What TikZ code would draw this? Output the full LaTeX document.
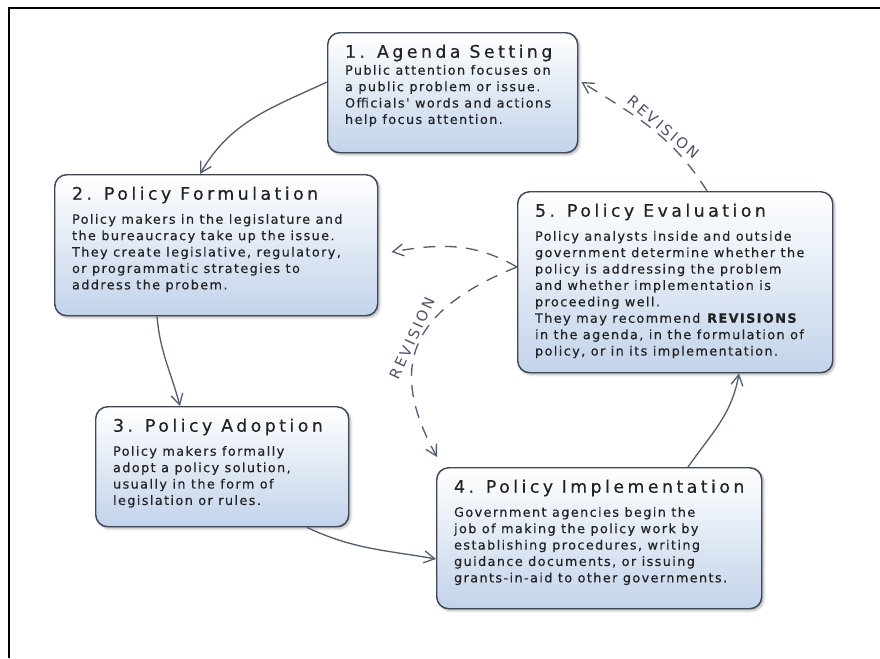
\documentclass[tikz,border=0pt]{standalone}
\usepackage{fontspec}
\usetikzlibrary{arrows.meta,calc,shadows.blur}
\newfontfamily\stagefont[LetterSpace=11, FakeBold=0.35]{DejaVu Sans}
\newfontfamily\titlefont[LetterSpace=20, FakeBold=0.4]{DejaVu Sans}
\newfontfamily\revfont[LetterSpace=18]{DejaVu Sans}
\definecolor{stageline}{HTML}{3E4858}
\definecolor{stageblue}{HTML}{C2D3EA}
\definecolor{arrowgray}{HTML}{555F6E}
\definecolor{textgray}{HTML}{222222}
\definecolor{revgray}{HTML}{4A5262}
% title and text of one stage, in a box of the given width and height
\newcommand{\stagetext}[5][13pt]{%
  \parbox[t][#3][t]{\dimexpr#2-26pt\relax}{\raggedright
    {\titlefont\fontsize{13pt}{15pt}\selectfont\rule[-5pt]{0pt}{23.75pt}#4\par}%
    \nointerlineskip
    {\stagefont\fontsize{9.6pt}{12.3pt}\selectfont\rule{0pt}{#1}#5\par}}}

\begin{document}
\begin{tikzpicture}[x=0.75pt, y=0.75pt,
    stage/.style={anchor=north west, draw=stageline, line width=1.1pt,
      rounded corners=9pt, top color=white, bottom color=stageblue,
      inner xsep=13pt, inner ysep=0pt, text=textgray,
      blur shadow={shadow xshift=1.5pt, shadow yshift=-1.5pt,
        shadow blur steps=6, shadow opacity=30}},
    flow/.style={draw=arrowgray, line width=1pt,
      -{Straight Barb[length=8pt, width=9pt]}},
    revflow/.style={flow, dash pattern=on 9pt off 7pt},
    revision/.style={sloped, above, inner sep=1.5pt, text=revgray,
      font=\revfont\fontsize{11pt}{13pt}\selectfont}]
  \useasboundingbox (0,0) rectangle (880,-658);

  % frame
  \draw[line width=1.5pt] (9,-658) -- (9,-8) -- (880,-8);

  % stages
  \node[stage] (agenda) at (327,-32) {\stagetext[7.75pt]{187.5pt}{90pt}
    {1. Agenda Setting}
    {Public attention focuses on\\ a public problem or issue.\\
     Officials' words and actions\\ help focus attention.}};
  \node[stage] (formulation) at (54,-174) {\stagetext{242.25pt}{105.75pt}
    {2. Policy Formulation}
    {Policy makers in the legislature and\\ the bureaucracy take up the issue.\\
     They create legislative, regulatory,\\ or programmatic strategies to\\
     address the probem.}};
  \node[stage] (adoption) at (95,-406) {\stagetext{189.75pt}{90pt}
    {3. Policy Adoption}
    {Policy makers formally\\ adopt a policy solution,\\
     usually in the form of\\ legislation or rules.}};
  \node[stage] (implementation) at (436,-467) {\stagetext{243.75pt}{105.75pt}
    {4. Policy Implementation}
    {Government agencies begin the\\ job of making the policy work by\\
     establishing procedures, writing\\ guidance documents, or issuing\\
     grants-in-aid to other governments.}};
  \node[stage] (evaluation) at (517,-191) {\stagetext{236.25pt}{135.75pt}
    {5. Policy Evaluation}
    {Policy analysts inside and outside\\ government determine whether the\\
     policy is addressing the problem\\ and whether implementation is\\
     proceeding well.\\ They may recommend \textbf{REVISIONS}\\
     in the agenda, in the formulation of\\ policy, or in its implementation.}};

  % cycle
  \draw[flow] ($(agenda.north west)+(0,-50)$) to[out=205, in=60]
    ($(formulation.north west)+(146,0)$);
  \draw[flow] ($(formulation.south west)+(103,0)$) to[out=-85, in=105]
    ($(adoption.north west)+(85,0)$);
  \draw[flow] ($(adoption.south west)+(212,0)$) to[out=-25, in=170]
    ($(implementation.north west)+(0,-92)$);
  \draw[flow] ($(implementation.north west)+(252,0)$) to[out=55, in=-100]
    ($(evaluation.south west)+(222,0)$);

  % revisions
  \draw[revflow] ($(evaluation.north west)+(190,0)$) to[out=122, in=-32]
    node[revision, pos=0.45] (revtop) {REVISION}
    ($(agenda.north east)+(3,-50)$);
  \draw[revflow] ($(evaluation.north west)+(0,-76)$) to[out=150, in=10]
    ($(formulation.north east)+(13,-78)$);
  \draw[revflow] ($(evaluation.north west)+(0,-76)$) to[out=202, in=119, looseness=1.35]
    node[revision, pos=0.5] (revlow) {REVISION}
    ($(implementation.north west)+(1,10)$);
\end{tikzpicture}
\end{document}
